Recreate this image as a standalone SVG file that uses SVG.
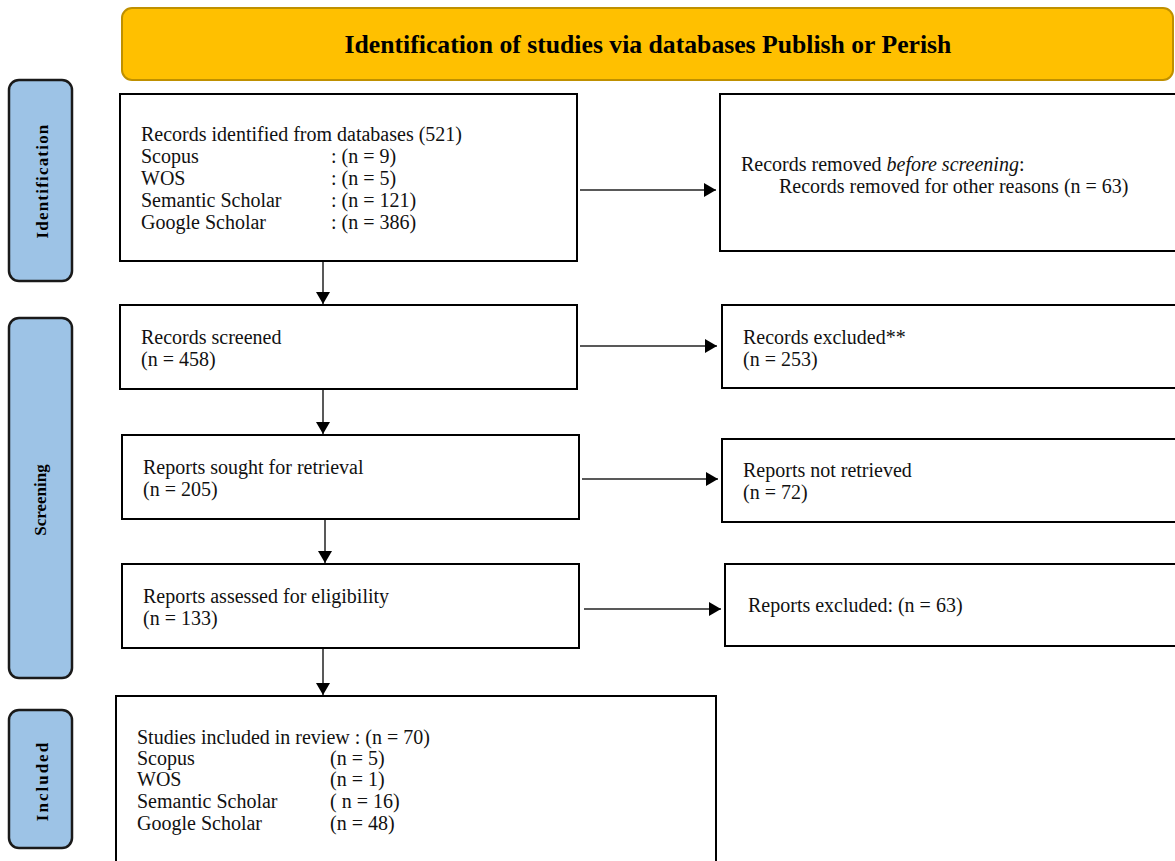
<svg xmlns="http://www.w3.org/2000/svg" width="1175" height="861" viewBox="0 0 1175 861">
<style>
.box{fill:#fff;stroke:#000;stroke-width:2}
.side{fill:#9DC3E6;stroke:#1a1a1a;stroke-width:2.5}
.t{font-family:"Liberation Serif",serif;font-size:20px;fill:#111}
.sl{font-family:"Liberation Serif",serif;font-size:17px;font-weight:bold;fill:#000;text-anchor:middle}
.c{stroke:#222;stroke-width:1.5;fill:none}
</style>
<defs>
<marker id="ah" viewBox="0 0 12 14" refX="12" refY="7" markerWidth="12" markerHeight="14" markerUnits="userSpaceOnUse" orient="auto">
<path d="M0,0 L12,7 L0,14 Z" fill="#000"/>
</marker>
</defs>

<g id="header">
<rect x="122" y="8" width="1051" height="72" rx="10" fill="#FFC000" stroke="#BF9000" stroke-width="2"/>
<text x="648" y="53" font-family="Liberation Serif,serif" font-size="25.7" font-weight="bold" text-anchor="middle" fill="#000">Identification of studies via databases Publish or Perish</text>
</g>

<g id="side-identification">
<rect class="side" x="9" y="80" width="63" height="201" rx="10"/>
<text class="sl" letter-spacing="1.2" transform="translate(48,181) rotate(-90)">Identification</text>
</g>
<g id="side-screening">
<rect class="side" x="9" y="318" width="63" height="360" rx="10"/>
<text class="sl" transform="translate(46,500) rotate(-90)">Screening</text>
</g>
<g id="side-included">
<rect class="side" x="9" y="710" width="63" height="138" rx="10"/>
<text class="sl" letter-spacing="2" transform="translate(48,781) rotate(-90)">Included</text>
</g>

<g id="n-identified">
<rect class="box" x="120" y="94" width="457" height="167"/>
<text class="t" x="141" y="141">Records identified from databases (521)</text>
<text class="t" x="141" y="163">Scopus</text><text class="t" x="331" y="163">: (n = 9)</text>
<text class="t" x="141" y="185">WOS</text><text class="t" x="331" y="185">: (n = 5)</text>
<text class="t" x="141" y="207">Semantic Scholar</text><text class="t" x="331" y="207">: (n = 121)</text>
<text class="t" x="141" y="229">Google Scholar</text><text class="t" x="331" y="229">: (n = 386)</text>
</g>
<g id="n-removed">
<rect class="box" x="720" y="94" width="465" height="157"/>
<text class="t" x="741" y="171">Records removed <tspan font-style="italic">before screening</tspan>:</text>
<text class="t" x="779" y="193">Records removed for other reasons (n = 63)</text>
</g>
<g id="n-screened">
<rect class="box" x="120" y="305" width="457" height="84"/>
<text class="t" x="141" y="344">Records screened</text>
<text class="t" x="141" y="366">(n = 458)</text>
</g>
<g id="n-excluded">
<rect class="box" x="722" y="305" width="463" height="83"/>
<text class="t" x="743" y="344">Records excluded**</text>
<text class="t" x="743" y="366">(n = 253)</text>
</g>
<g id="n-sought">
<rect class="box" x="122" y="435" width="457" height="84"/>
<text class="t" x="143" y="474">Reports sought for retrieval</text>
<text class="t" x="143" y="496">(n = 205)</text>
</g>
<g id="n-notretrieved">
<rect class="box" x="722" y="439" width="463" height="83"/>
<text class="t" x="743" y="477">Reports not retrieved</text>
<text class="t" x="743" y="499">(n = 72)</text>
</g>
<g id="n-assessed">
<rect class="box" x="122" y="564" width="457" height="84"/>
<text class="t" x="143" y="603">Reports assessed for eligibility</text>
<text class="t" x="143" y="625">(n = 133)</text>
</g>
<g id="n-reportsexcluded">
<rect class="box" x="725" y="564" width="460" height="82"/>
<text class="t" x="748" y="612">Reports excluded: (n = 63)</text>
</g>
<g id="n-included">
<rect class="box" x="116" y="696" width="600" height="175"/>
<text class="t" x="137" y="744">Studies included in review : (n = 70)</text>
<text class="t" x="137" y="765">Scopus</text><text class="t" x="330" y="765">(n = 5)</text>
<text class="t" x="137" y="786">WOS</text><text class="t" x="330" y="786">(n = 1)</text>
<text class="t" x="137" y="808">Semantic Scholar</text><text class="t" x="330" y="808">( n = 16)</text>
<text class="t" x="137" y="830">Google Scholar</text><text class="t" x="330" y="830">(n = 48)</text>
</g>

<g id="connectors">
<line class="c" x1="580" y1="190" x2="716" y2="190" marker-end="url(#ah)"/>
<line class="c" x1="323" y1="262" x2="323" y2="304" marker-end="url(#ah)"/>
<line class="c" x1="580" y1="346" x2="717" y2="346" marker-end="url(#ah)"/>
<line class="c" x1="323" y1="390" x2="323" y2="434" marker-end="url(#ah)"/>
<line class="c" x1="582" y1="479" x2="718" y2="479" marker-end="url(#ah)"/>
<line class="c" x1="325" y1="520" x2="325" y2="563" marker-end="url(#ah)"/>
<line class="c" x1="584" y1="609" x2="721" y2="609" marker-end="url(#ah)"/>
<line class="c" x1="323" y1="649" x2="323" y2="695" marker-end="url(#ah)"/>
</g>
</svg>
